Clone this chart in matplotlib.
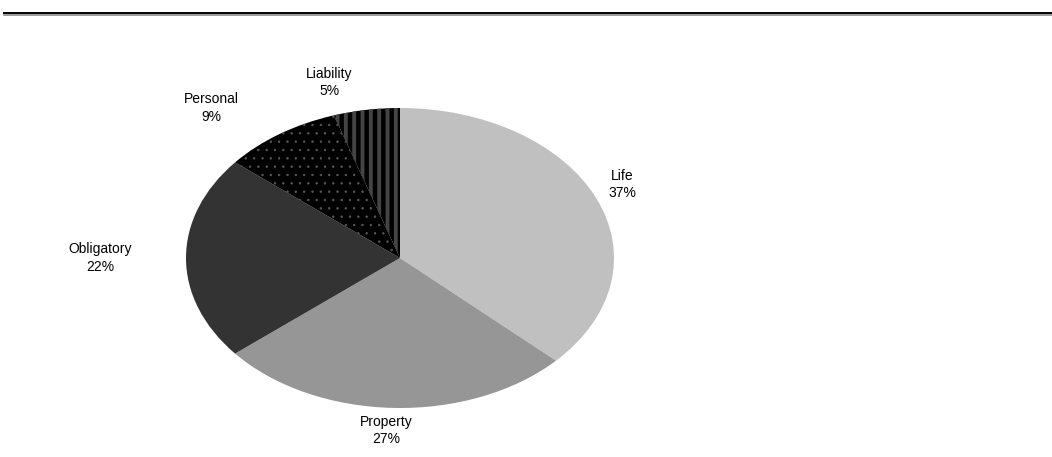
import matplotlib
matplotlib.use("Agg")
import matplotlib.pyplot as plt
from matplotlib.lines import Line2D

plt.rcParams['font.family'] = ['Liberation Sans', 'DejaVu Sans']

categories = ['Life', 'Property', 'Obligatory', 'Personal', 'Liability']
shares = [37, 27, 22, 9, 5]
colors = ['#c0c0c0', '#969696', '#333333', '#000000', '#000000']
hatches = [None, None, None, '..', '||']
hatch_colors = [None, None, None, '#5a5a5a', '#444444']

# label anchor points in pie coordinates (x, y)
label_pos = [(1.04, 0.49), (-0.065, -1.15), (-1.40, 0.0), (-0.88, 1.0), (-0.33, 1.17)]

W, H = 1052, 457
fig = plt.figure(figsize=(W / 100, H / 100), dpi=100)

# the pie is stretched into an ellipse by the axes box
cx, cy, rx, ry = 400, 258, 214, 150
ax = fig.add_axes([(cx - rx) / W, (H - cy - ry) / H, 2 * rx / W, 2 * ry / H])

wedges, _ = ax.pie(shares, colors=colors, startangle=90, counterclock=False,
                   radius=1, wedgeprops=dict(linewidth=0))
for w, h, hc in zip(wedges, hatches, hatch_colors):
    if h:
        w.set_hatch(h)
        w.set_edgecolor(hc)
        w.set_linewidth(0)
        if hasattr(w, 'set_hatch_linewidth'):
            w.set_hatch_linewidth(2.8 if h == '||' else 0.5)

ax.set_aspect('auto')
ax.set_xlim(-1, 1)
ax.set_ylim(-1, 1)
ax.axis('off')

for name, val, (lx, ly) in zip(categories, shares, label_pos):
    ax.text(lx, ly, f'{name}\n{val}%', ha='center', va='center',
            fontsize=10, linespacing=1.35, clip_on=False)

# rule across the top of the page
fig.add_artist(Line2D([4 / W, 1], [1 - 14.5 / H] * 2, color='#8a8a8a', lw=1.2))
fig.add_artist(Line2D([4 / W, 1], [1 - 13 / H] * 2, color='black', lw=1.4))

fig.savefig('out.png', dpi=100)
